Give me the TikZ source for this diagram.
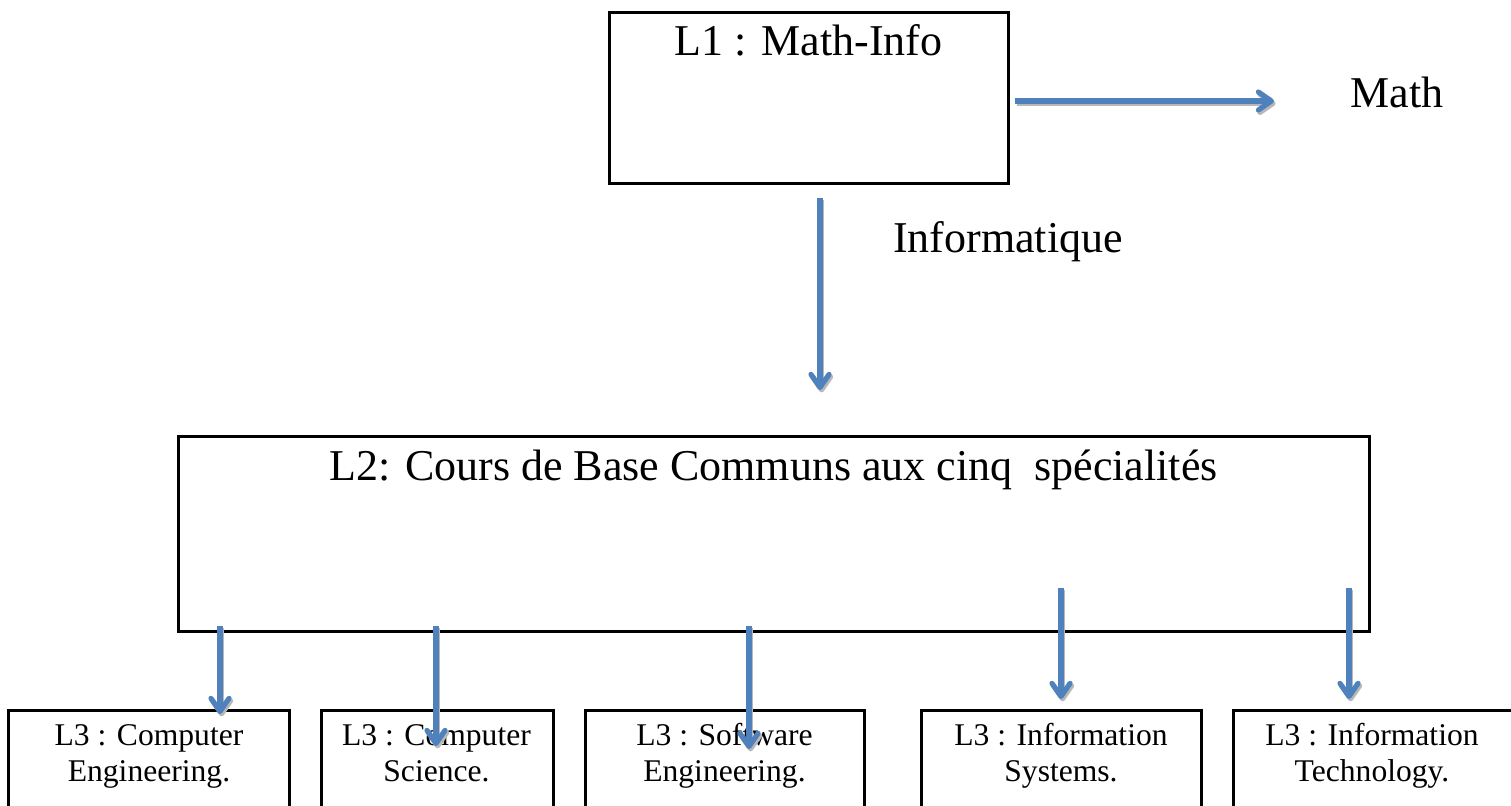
\documentclass[tikz,border=0pt]{standalone}
\usepackage{fontspec}
\setmainfont{Liberation Serif}
\usetikzlibrary{arrows.meta}
\definecolor{arrowblue}{RGB}{79,129,189}
\newcommand{\twolines}[2]{\setlength{\tabcolsep}{0pt}\begin{tabular}[t]{c}#1\\#2\end{tabular}}
\begin{document}
\begin{tikzpicture}[x=0.5pt,y=-0.5pt,
  box/.style={draw=black,line width=1.5pt,inner sep=0pt,outer sep=0pt},
  bigtxt/.style={inner sep=0pt,anchor=base,font=\fontsize{22}{26}\selectfont},
  smalltxt/.style={inner sep=0pt,anchor=base,font=\fontsize{15.8}{18.3}\selectfont},
  flow/.style={draw=arrowblue,line width=2.6pt,
    -{Straight Barb[length=6.5pt,width=9pt,line width=2.6pt,round]}},
  flowshadow/.style={draw=black!28,line width=2.6pt,
    -{Straight Barb[length=6.5pt,width=9pt,line width=2.6pt,round]}}
]
\useasboundingbox (0,0) rectangle (1511,805);
\clip (0,0) rectangle (1511,805);

% L1
\node[box,minimum width=199.5pt,minimum height=85.5pt] (l1) at (808.5,97.5) {};
\node[bigtxt] (l1t) at (808.5,55) {L1 : Math-Info};
\node[bigtxt] (math) at (1397,107) {Math};
\node[bigtxt] (info) at (1008,252) {Informatique};

% L2
\node[box,minimum width=595.5pt,minimum height=97.5pt] (l2) at (773.5,533.5) {};
\node[bigtxt] (l2t) at (773.5,480) {L2: Cours de Base Communs aux cinq\ \ spécialités};

% L3 boxes
\node[box,minimum width=140.5pt,minimum height=60pt] (b1) at (148.5,770) {};
\node[box,minimum width=116pt,minimum height=60pt] (b2) at (437,770) {};
\node[box,minimum width=139.5pt,minimum height=60pt] (b3) at (724.5,770) {};
\node[box,minimum width=140pt,minimum height=60pt] (b4) at (1061,770) {};
\node[box,minimum width=150pt,minimum height=60pt] (b5) at (1383,770) {};

\node[smalltxt] (t1) at (149,745) {\twolines{L3 : Computer}{Engineering.}};
\node[smalltxt] (t2) at (436.5,745) {\twolines{L3 : Computer}{Science.}};
\node[smalltxt] (t3) at (724.5,745) {\twolines{L3 : Software}{Engineering.}};
\node[smalltxt] (t4) at (1061,745) {\twolines{L3 : Information}{Systems.}};
\node[smalltxt] (t5) at (1372,745) {\twolines{L3 : Information}{Technology.}};

% arrow end points
\coordinate (m1) at (1015,101);
\coordinate (m2) at (1274,101);
\coordinate (i1) at (820,198);
\coordinate (i2) at (820,390);
\coordinate (s1) at (220,626);
\coordinate (e1) at (220,714);
\coordinate (s2) at (436,626);
\coordinate (e2) at (436,746);
\coordinate (s3) at (749,626);
\coordinate (e3) at (749,749);
\coordinate (s4) at (1061,588);
\coordinate (e4) at (1061,699);
\coordinate (s5) at (1349,588);
\coordinate (e5) at (1349,699);

\begin{scope}[transform canvas={xshift=0.8pt,yshift=-1.2pt}]
\draw[flowshadow] (m1) -- (m2);
\draw[flowshadow] (i1) -- (i2);
\draw[flowshadow] (s1) -- (e1);
\draw[flowshadow] (s2) -- (e2);
\draw[flowshadow] (s3) -- (e3);
\draw[flowshadow] (s4) -- (e4);
\draw[flowshadow] (s5) -- (e5);
\end{scope}
\draw[flow] (m1) -- (m2);
\draw[flow] (i1) -- (i2);
\draw[flow] (s1) -- (e1);
\draw[flow] (s2) -- (e2);
\draw[flow] (s3) -- (e3);
\draw[flow] (s4) -- (e4);
\draw[flow] (s5) -- (e5);
\end{tikzpicture}
\end{document}
